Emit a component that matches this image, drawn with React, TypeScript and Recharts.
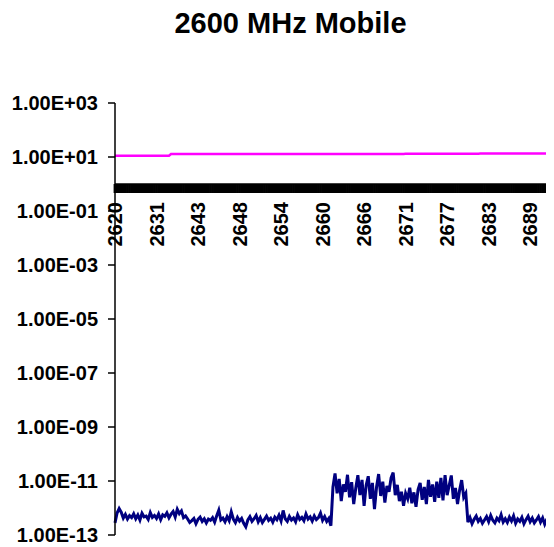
import { LineChart, Line, XAxis, YAxis } from 'recharts';

// x tick labels (MHz), one label every LABEL_STEP samples
const freqLabels = ['2620', '2631', '2643', '2648', '2654', '2660', '2666', '2671', '2677', '2683', '2689'];
const LABEL_STEP = 20;

// upper (magenta) trace
const powerLevel = [
  11.2, 11.2, 11.2, 11.2, 11.2, 11.2, 11.2, 11.2, 11.2, 11.2,
  11.2, 11.2, 11.2, 11.2, 11.2, 11.2, 11.2, 11.2, 11.2, 11.2,
  11.2, 11.2, 11.2, 11.2, 11.2, 11.2, 11.2, 13.0, 13.0, 13.0,
  13.0, 13.0, 13.0, 13.0, 13.0, 13.0, 13.0, 13.0, 13.0, 13.0,
  13.0, 13.0, 13.0, 13.0, 13.0, 13.0, 13.0, 13.0, 13.0, 13.0,
  13.0, 13.0, 13.0, 13.0, 13.0, 13.0, 13.0, 13.0, 13.0, 13.0,
  13.0, 13.0, 13.0, 13.0, 13.0, 13.0, 13.0, 13.0, 13.0, 13.0,
  13.0, 13.0, 13.0, 13.0, 13.0, 13.0, 13.0, 13.0, 13.0, 13.0,
  13.0, 13.0, 13.0, 13.0, 13.0, 13.0, 13.0, 13.0, 13.0, 13.0,
  13.0, 13.0, 13.0, 13.0, 13.0, 13.0, 13.0, 13.0, 13.0, 13.0,
  13.0, 13.0, 13.0, 13.0, 13.0, 13.0, 13.0, 13.0, 13.0, 13.0,
  13.0, 13.0, 13.0, 13.0, 13.0, 13.0, 13.0, 13.0, 13.0, 13.0,
  13.0, 13.0, 13.0, 13.0, 13.0, 13.0, 13.0, 13.0, 13.0, 13.0,
  13.0, 13.0, 13.0, 13.0, 13.0, 13.0, 13.0, 13.0, 13.0, 13.0,
  13.2, 13.2, 13.2, 13.2, 13.2, 13.2, 13.2, 13.2, 13.2, 13.2,
  13.2, 13.2, 13.2, 13.2, 13.2, 13.2, 13.2, 13.2, 13.2, 13.2,
  13.2, 13.2, 13.2, 13.2, 13.2, 13.2, 13.2, 13.2, 13.2, 13.2,
  13.2, 13.2, 13.2, 13.2, 13.2, 13.2, 13.4, 13.4, 13.4, 13.4,
  13.4, 13.4, 13.4, 13.4, 13.4, 13.4, 13.4, 13.4, 13.4, 13.4,
  13.4, 13.4, 13.4, 13.4, 13.4, 13.4, 13.4, 13.4, 13.4, 13.4,
  13.4, 13.4, 13.4, 13.4, 13.4, 13.4, 13.4, 13.4, 13.4, 13.4,
  13.4, 13.4,
];

// lower (navy) trace, in units of NOISE_UNIT
const NOISE_UNIT = 1e-13;
const noiseLevel = [
  2.8, 6.5, 9.5, 7.0, 4.2, 5.8, 3.9, 5.2, 4.4, 6.1,
  4.0, 5.5, 3.6, 6.4, 4.7, 5.0, 3.8, 6.8, 4.5, 5.3,
  4.1, 6.0, 3.7, 5.6, 4.9, 6.6, 4.3, 5.9, 7.4, 4.6,
  9.0, 6.2, 7.8, 4.4, 5.1, 3.9,
  2.9, 3.4, 4.1, 2.6, 3.8, 4.6, 3.2, 4.0, 2.8, 3.9,
  3.5, 4.4, 3.0, 5.2, 8.3, 3.6, 4.2, 3.1, 4.8, 3.4,
  7.2, 3.9, 2.9, 4.5, 3.3, 4.1, 2.7, 2.0, 3.6, 4.8,
  3.2, 4.0, 5.3, 3.1, 4.4, 2.9, 3.8, 5.0, 3.5, 4.2,
  3.0, 4.6, 3.7, 5.4, 3.3, 8.1, 4.0, 3.2, 4.9, 3.6,
  4.3, 3.1, 5.6, 3.8, 4.5, 3.4, 6.0, 3.9, 4.7, 3.3,
  5.1, 3.7, 4.4, 6.5, 3.5, 4.8, 3.2, 4.1, 2.2,
  60, 190, 35, 120, 18, 75, 40, 170, 25, 90,
  14, 55, 165, 30, 110, 12, 70, 150, 22, 85,
  9, 60, 180, 28, 95, 16, 65, 40, 130, 205,
  30, 72, 18, 40, 12, 35, 22, 56, 15, 38,
  11, 48, 85, 20, 60, 14, 110, 26, 75, 17,
  95, 24, 130, 19, 165, 30, 70, 160, 22, 55,
  14, 45, 108, 25, 35,
  3.0, 4.4, 2.6, 3.8, 5.0, 3.2, 4.1, 2.7, 3.6, 4.8,
  3.1, 5.3, 3.5, 2.8, 4.2, 3.4, 5.6, 3.0, 4.0, 2.9,
  4.6, 3.3, 5.1, 2.7, 3.9, 3.2, 4.5, 2.6, 3.7, 5.0,
  3.1, 4.2, 2.8, 3.6, 4.8, 3.0, 4.3, 2.5, 3.8, 4.6, 2.4, 3.5,
];

const upperTicks = [1e1, 1e3];
const lowerTicks = [1e-13, 1e-11, 1e-9, 1e-7, 1e-5, 1e-3, 1e-1];

const data = powerLevel.map((p, i) => ({
  i,
  power: p,
  noise: noiseLevel[i] * NOISE_UNIT,
}));

const FONT = '"Liberation Sans", Arial, sans-serif';
const W = 546;

const sci = (v: number) => {
  const [m, e] = v.toExponential(2).split('e');
  const n = parseInt(e, 10);
  return `${m.toUpperCase()}E${n < 0 ? '-' : '+'}${String(Math.abs(n)).padStart(2, '0')}`;
};

const yTick = { fontSize: 20, fontWeight: 'bold', fill: '#000', fontFamily: FONT };

function FreqTick(props: any) {
  const { x, y, payload } = props;
  const idx = Number(payload.value);
  if (idx % LABEL_STEP !== 0) return null;
  const label = freqLabels[idx / LABEL_STEP];
  if (!label) return null;
  return (
    <text
      x={x}
      y={y}
      dy="0.35em"
      transform={`rotate(-90, ${x}, ${y})`}
      textAnchor="end"
      fontSize={20}
      fontWeight="bold"
      fontFamily={FONT}
      fill="#000"
    >
      {label}
    </text>
  );
}

export default function App() {
  return (
    <div style={{ position: 'relative', width: W, height: 539, fontFamily: FONT }}>
      <div
        style={{
          position: 'absolute',
          top: 1,
          left: 19,
          width: W - 19,
          textAlign: 'center',
          fontSize: 29,
          lineHeight: '29px',
          fontWeight: 'bold',
          color: '#000',
        }}
      >
        2600 MHz Mobile
      </div>

      {/* lower part: 1e-13 .. 1 */}
      <div style={{ position: 'absolute', top: 164, left: 0 }}>
        <LineChart width={W} height={375} data={data} margin={{ top: 12, right: 1, left: 0, bottom: 12 }}>
          <XAxis dataKey="i" hide />
          <YAxis
            scale="log"
            type="number"
            domain={[1e-13, 1]}
            allowDataOverflow
            ticks={lowerTicks}
            tickFormatter={sci}
            width={107}
            tick={yTick}
            tickSize={7}
            tickMargin={10}
            axisLine={{ stroke: '#000', strokeWidth: 1.5 }}
            tickLine={{ stroke: '#000', strokeWidth: 1.5 }}
          />
          <Line
            dataKey="noise"
            stroke="#000080"
            strokeWidth={3}
            dot={false}
            isAnimationActive={false}
          />
        </LineChart>
      </div>

      {/* upper part: 1 .. 1e3, with the category axis crossing at 1 */}
      <div style={{ position: 'absolute', top: 0, left: 0 }}>
        <LineChart width={W} height={251} data={data} margin={{ top: 95, right: 1, left: 0, bottom: 0 }}>
          <XAxis
            dataKey="i"
            interval={0}
            height={75}
            tick={<FreqTick />}
            tickSize={9}
            tickMargin={9}
            axisLine={{ stroke: '#000', strokeWidth: 1.5 }}
            tickLine={{ stroke: '#000', strokeWidth: 2.8 }}
          />
          <YAxis
            scale="log"
            type="number"
            domain={[1, 1000]}
            allowDataOverflow
            ticks={upperTicks}
            tickFormatter={sci}
            width={107}
            tick={yTick}
            tickSize={7}
            tickMargin={10}
            axisLine={{ stroke: '#000', strokeWidth: 1.5 }}
            tickLine={{ stroke: '#000', strokeWidth: 1.5 }}
          />
          <Line
            dataKey="power"
            stroke="#FF00FF"
            strokeWidth={2.5}
            dot={false}
            isAnimationActive={false}
          />
        </LineChart>
      </div>
    </div>
  );
}
